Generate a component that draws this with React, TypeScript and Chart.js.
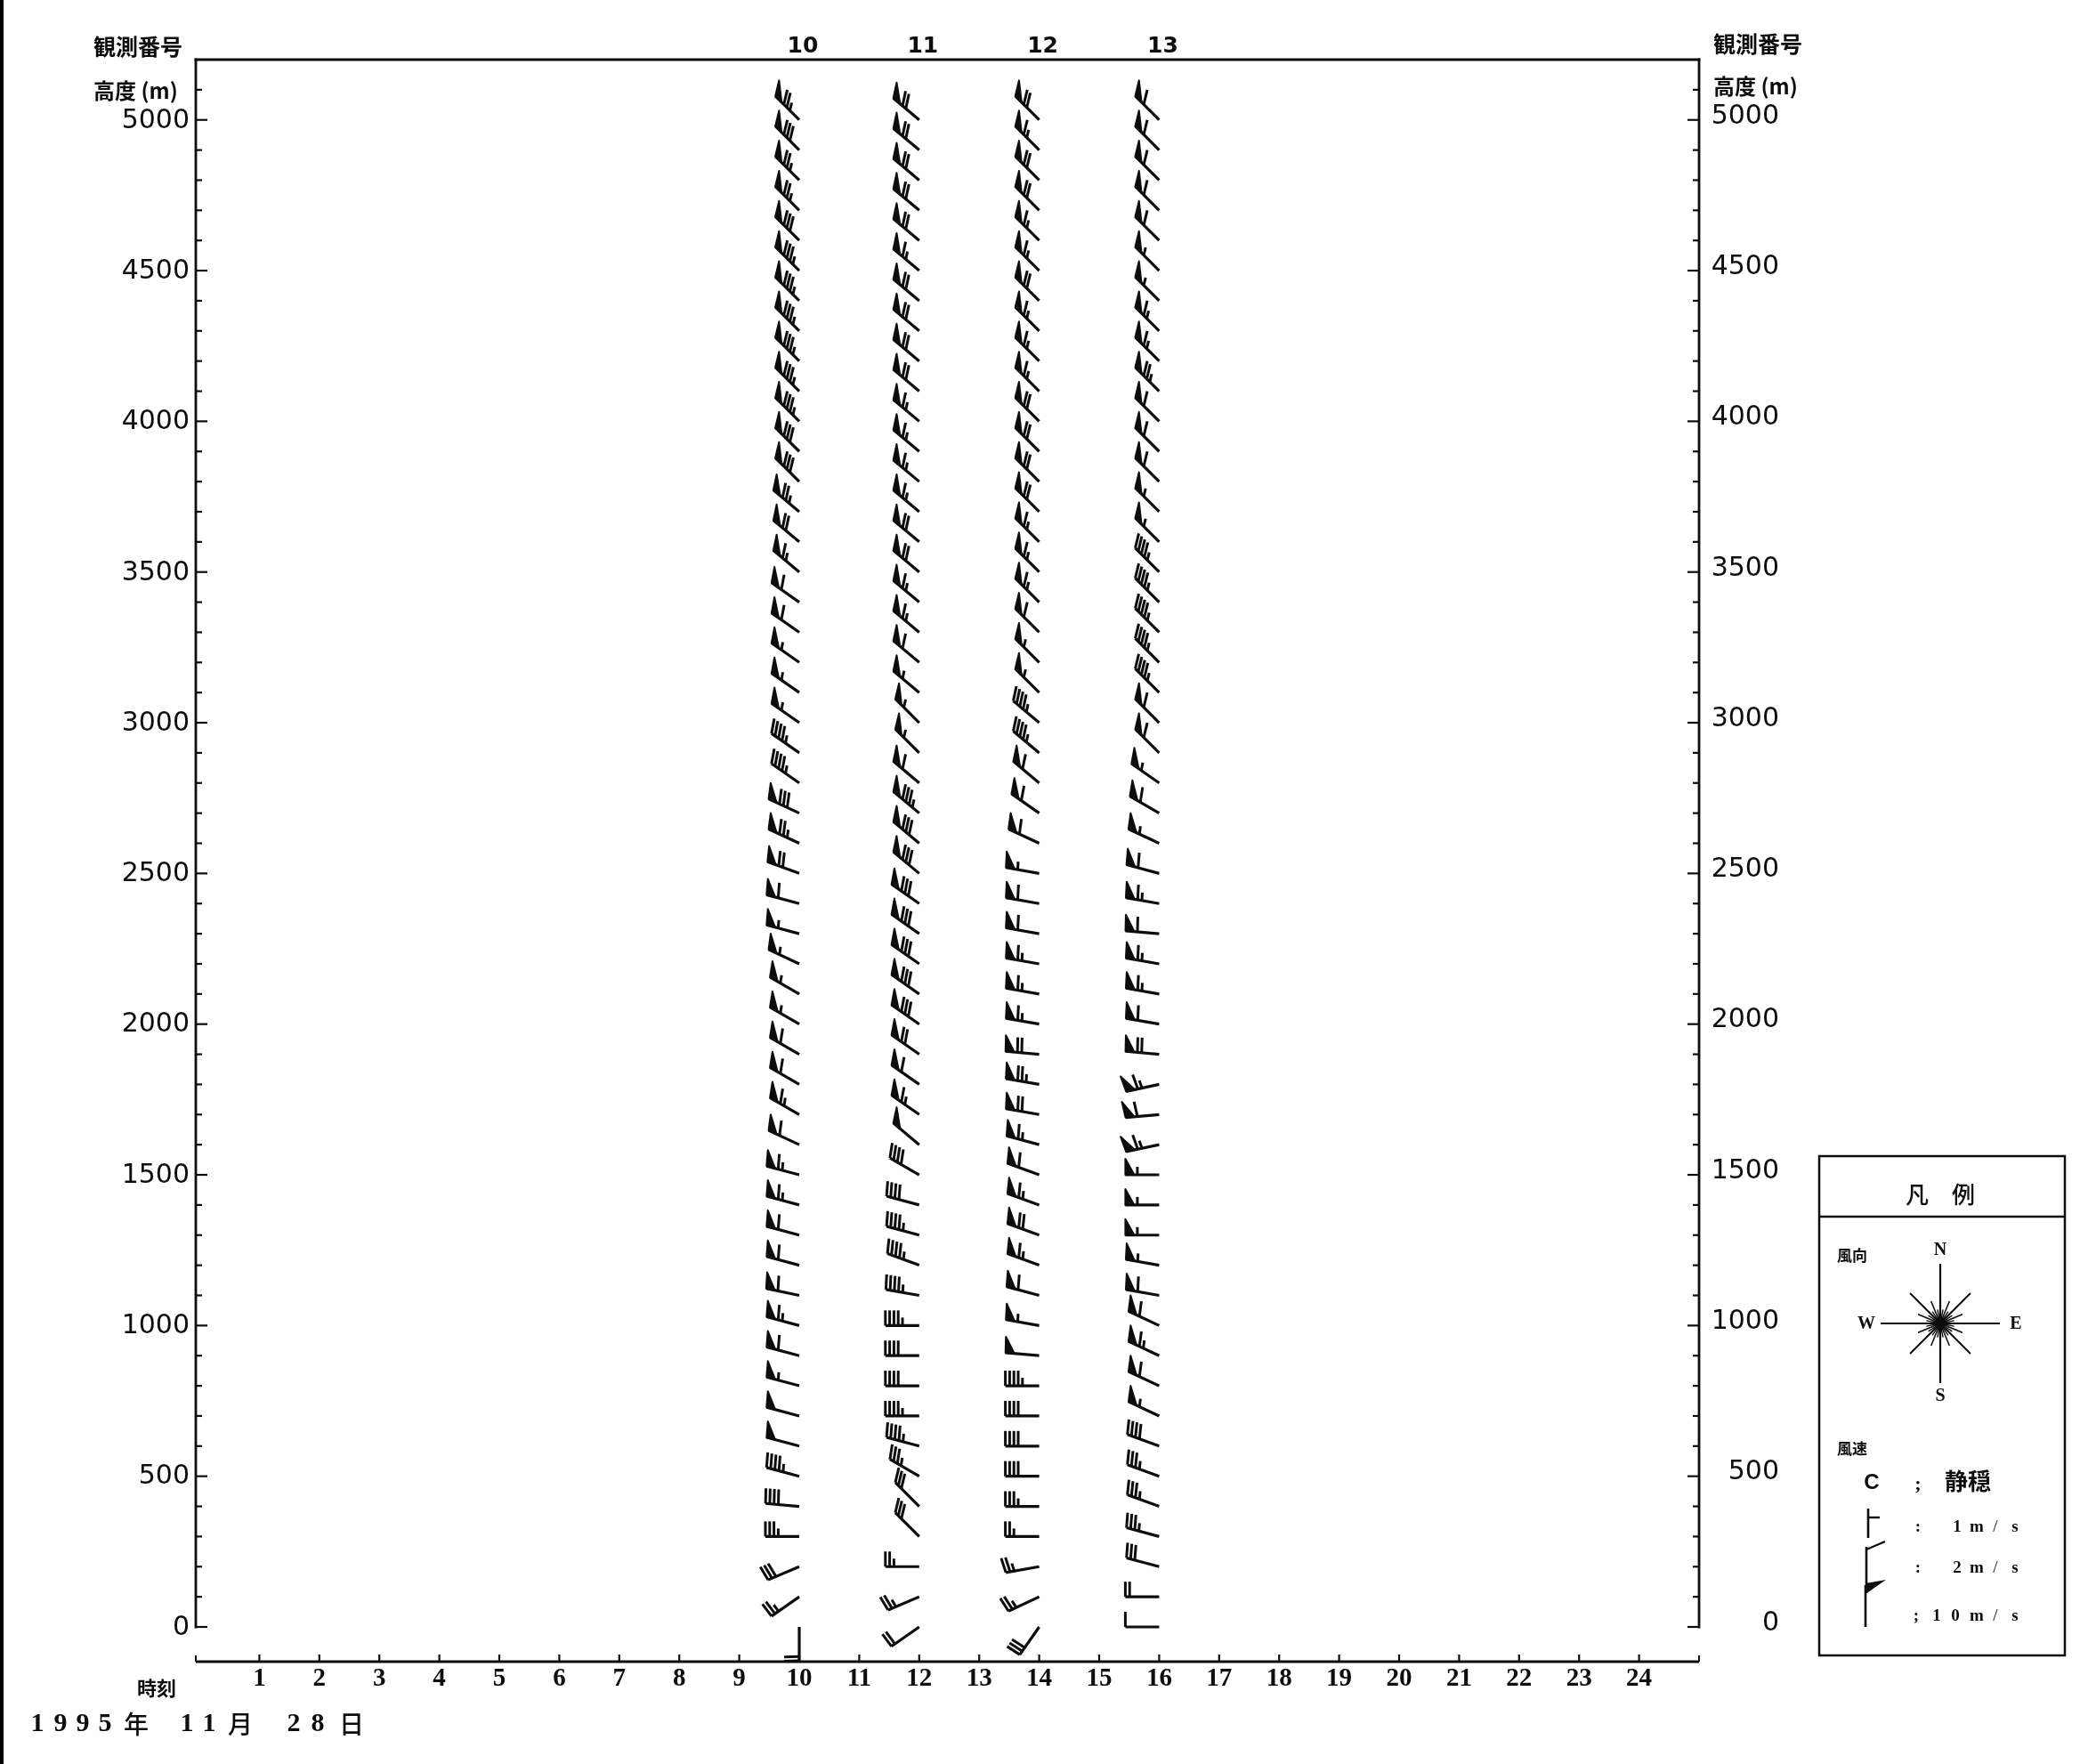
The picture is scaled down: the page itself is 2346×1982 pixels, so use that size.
import React, { useEffect, useRef } from 'react';
import { Chart, registerables } from 'chart.js';

Chart.register(...registerables);

// ---------------- DATA ----------------
const HEIGHTS = [
  0, 100, 200, 300, 400, 500, 600, 700, 800, 900,
  1000, 1100, 1200, 1300, 1400, 1500, 1600, 1700, 1800, 1900,
  2000, 2100, 2200, 2300, 2400, 2500, 2600, 2700, 2800, 2900,
  3000, 3100, 3200, 3300, 3400, 3500, 3600, 3700, 3800, 3900,
  4000, 4100, 4200, 4300, 4400, 4500, 4600, 4700, 4800, 4900,
  5000,
];
const HOURS = [10, 12, 14, 16];
const OBS_NUMBERS = ['10', '11', '12', '13'];

// wind direction (deg, from which the wind blows), bottom (0 m) to top (5000 m)
const DIR_10 = [
  180, 235, 247, 270, 275, 285, 285, 285, 285, 285,
  285, 282, 285, 285, 285, 285, 295, 300, 300, 300,
  300, 300, 295, 285, 285, 290, 295, 295, 305, 305,
  305, 305, 305, 305, 305, 310, 310, 310, 315, 315,
  315, 315, 315, 315, 315, 315, 315, 315, 315, 315,
  315,
];
const SPD_10 = [
  4, 5, 6, 7, 8, 9, 10, 10, 11, 12,
  13, 12, 12, 12, 13, 13, 12, 13, 12, 12,
  11, 11, 11, 11, 12, 14, 15, 16, 9, 9,
  11, 11, 11, 12, 12, 13, 14, 15, 16, 16,
  17, 17, 17, 17, 17, 17, 16, 15, 15, 16,
  15,
];
const DIR_12 = [
  235, 247, 270, 315, 315, 300, 285, 270, 270, 270,
  270, 280, 290, 285, 285, 300, 310, 305, 305, 305,
  305, 305, 305, 305, 305, 310, 310, 310, 310, 315,
  315, 310, 310, 310, 310, 310, 310, 310, 310, 310,
  310, 310, 310, 310, 310, 310, 310, 310, 310, 310,
  310,
];
const SPD_12 = [
  4, 5, 5, 6, 6, 7, 9, 9, 8, 8,
  9, 9, 9, 9, 8, 8, 10, 13, 12, 14,
  16, 16, 16, 16, 16, 16, 16, 17, 12, 11,
  11, 11, 12, 13, 13, 14, 14, 13, 13, 13,
  13, 14, 14, 14, 14, 13, 14, 14, 14, 14,
  14,
];
const DIR_14 = [
  215, 245, 260, 270, 270, 270, 270, 270, 270, 275,
  280, 285, 290, 290, 290, 290, 285, 280, 280, 275,
  280, 280, 280, 280, 280, 280, 295, 305, 310, 310,
  310, 315, 315, 315, 315, 315, 315, 315, 315, 315,
  315, 315, 315, 315, 315, 315, 315, 315, 315, 315,
  315,
];
const SPD_14 = [
  6, 5, 5, 5, 7, 8, 8, 8, 9, 10,
  11, 12, 13, 14, 13, 12, 13, 14, 15, 14,
  13, 13, 13, 12, 12, 11, 12, 12, 12, 9,
  9, 11, 11, 12, 13, 13, 13, 14, 14, 14,
  14, 13, 13, 13, 14, 13, 13, 14, 14, 13,
  14,
];
const DIR_16 = [
  270, 270, 285, 285, 290, 290, 290, 295, 295, 295,
  295, 280, 280, 270, 270, 270, 258, 265, 258, 275,
  280, 280, 280, 275, 280, 285, 295, 300, 305, 315,
  315, 315, 315, 315, 315, 315, 315, 315, 315, 315,
  315, 315, 315, 315, 315, 315, 315, 315, 315, 315,
  315,
];
const SPD_16 = [
  2, 4, 6, 7, 7, 7, 8, 11, 12, 13,
  12, 12, 11, 11, 11, 11, 13, 12, 13, 14,
  12, 13, 13, 12, 13, 12, 11, 12, 11, 12,
  12, 9, 9, 9, 9, 9, 11, 11, 12, 12,
  12, 15, 13, 13, 11, 11, 12, 12, 12, 12,
  12,
];
const DIRS = [DIR_10, DIR_12, DIR_14, DIR_16];
const SPEEDS = [SPD_10, SPD_12, SPD_14, SPD_16];

const Y_TICK_VALUES = [0, 500, 1000, 1500, 2000, 2500, 3000, 3500, 4000, 4500, 5000];
const Y_TICK_LABELS = ['0', '500', '1000', '1500', '2000', '2500', '3000', '3500', '4000', '4500', '5000'];
const HOUR_TICKS = [1, 2, 3, 4, 5, 6, 7, 8, 9, 10, 11, 12, 13, 14, 15, 16, 17, 18, 19, 20, 21, 22, 23, 24];
const HOUR_LABELS = ['1', '2', '3', '4', '5', '6', '7', '8', '9', '10', '11', '12', '13', '14', '15', '16', '17', '18', '19', '20', '21', '22', '23', '24'];

const DATE_CHARS = ['1', '9', '9', '5', '年', '1', '1', '月', '2', '8', '日'];
const DATE_X = [42, 68, 93, 118, 153, 210, 235, 270, 330, 357, 395];

// ---------------- DRAWING HELPERS ----------------
const INK = '#0d0d0d';
const JP = '"Noto Sans CJK JP", "Noto Sans CJK SC", sans-serif';

function featherOffset(dir: number) {
  // feathers of the plotter drawing stay close to upright for westerly winds
  if (dir >= 270 && dir <= 360) return 90 - (dir - 270) * 0.7;
  if (dir >= 240 && dir < 270) return 82;
  return 88;
}

function drawBarb(ctx: CanvasRenderingContext2D, x: number, y: number, dir: number, speed: number) {
  const L = 38;
  const spacing = 4.8;
  const longLen = 17;
  const shortLen = 9;
  const flagBase = 10;
  const r = (dir * Math.PI) / 180;
  const sx = Math.sin(r);
  const sy = -Math.cos(r);
  const fr = ((dir + featherOffset(dir)) * Math.PI) / 180;
  const fx = Math.sin(fr);
  const fy = -Math.cos(fr);
  const tx = x + sx * L;
  const ty = y + sy * L;
  ctx.save();
  ctx.strokeStyle = INK;
  ctx.fillStyle = INK;
  ctx.lineCap = 'butt';
  ctx.lineJoin = 'round';
  ctx.lineWidth = 3.2;
  ctx.beginPath();
  ctx.moveTo(x, y);
  ctx.lineTo(tx, ty);
  ctx.stroke();
  const flags = Math.floor(speed / 10);
  const rem = speed - flags * 10;
  const longs = Math.floor(rem / 2);
  const shorts = rem % 2;
  let pos = 0;
  for (let i = 0; i < flags; i++) {
    const ax = tx - sx * pos;
    const ay = ty - sy * pos;
    const bx = tx - sx * (pos + flagBase);
    const by = ty - sy * (pos + flagBase);
    ctx.beginPath();
    ctx.moveTo(ax, ay);
    ctx.lineTo(ax + fx * (longLen + 1), ay + fy * (longLen + 1));
    ctx.lineTo(bx, by);
    ctx.closePath();
    ctx.fill();
    ctx.lineWidth = 2;
    ctx.stroke();
    pos += flagBase + 3.5;
  }
  ctx.lineWidth = 3;
  for (let i = 0; i < longs; i++) {
    const px = tx - sx * pos;
    const py = ty - sy * pos;
    ctx.beginPath();
    ctx.moveTo(px, py);
    ctx.lineTo(px + fx * longLen, py + fy * longLen);
    ctx.stroke();
    pos += spacing;
  }
  for (let i = 0; i < shorts; i++) {
    if (pos === 0) pos = spacing;
    const px = tx - sx * pos;
    const py = ty - sy * pos;
    ctx.beginPath();
    ctx.moveTo(px, py);
    ctx.lineTo(px + fx * shortLen, py + fy * shortLen);
    ctx.stroke();
    pos += spacing;
  }
  ctx.restore();
}

function line(ctx: CanvasRenderingContext2D, x1: number, y1: number, x2: number, y2: number, w: number) {
  ctx.lineWidth = w;
  ctx.beginPath();
  ctx.moveTo(x1, y1);
  ctx.lineTo(x2, y2);
  ctx.stroke();
}

function text(ctx: CanvasRenderingContext2D, s: string, x: number, y: number, font: string, align: CanvasTextAlign = 'center') {
  ctx.font = font;
  ctx.textAlign = align;
  ctx.textBaseline = 'middle';
  ctx.fillText(s, x, y);
}

const decorPlugin = {
  id: 'windDecor',
  beforeDraw(chart: any) {
    const ctx = chart.ctx as CanvasRenderingContext2D;
    ctx.save();
    ctx.fillStyle = '#fff';
    ctx.fillRect(0, 0, chart.width, chart.height);
    ctx.fillStyle = '#000';
    ctx.fillRect(0, 0, 4, chart.height);
    ctx.restore();
  },
  afterDatasetsDraw(chart: any) {
    const ctx = chart.ctx as CanvasRenderingContext2D;
    chart.data.datasets.forEach((ds: any, di: number) => {
      const meta = chart.getDatasetMeta(di);
      meta.data.forEach((el: any, i: number) => {
        drawBarb(ctx, el.x, el.y, ds.windDir[i], ds.windSpeed[i]);
      });
    });
  },
  afterDraw(chart: any) {
    const ctx = chart.ctx as CanvasRenderingContext2D;
    const xs = chart.scales.x;
    const ys = chart.scales.y;
    const leftX = xs.getPixelForValue(0) - 4;
    const rightX = xs.getPixelForValue(25);
    const topY = ys.getPixelForValue(5200);
    const zeroY = ys.getPixelForValue(0);
    const timeY = 1867;
    ctx.save();
    ctx.strokeStyle = INK;
    ctx.fillStyle = INK;
    // frame (left, top, right)
    ctx.lineCap = 'square';
    line(ctx, leftX, zeroY, leftX, topY, 2.8);
    line(ctx, leftX, topY, rightX, topY, 2.8);
    line(ctx, rightX, topY, rightX, zeroY, 2.8);
    ctx.lineCap = 'butt';
    // height ticks every 100 m, inward
    for (let v = 0; v <= 5100; v += 100) {
      const py = ys.getPixelForValue(v);
      const len = v % 500 === 0 ? 13 : 7;
      line(ctx, leftX, py, leftX + len, py, 2.2);
      line(ctx, rightX, py, rightX - len, py, 2.2);
    }
    // height labels
    Y_TICK_VALUES.forEach((v, i) => {
      const py = ys.getPixelForValue(v);
      text(ctx, Y_TICK_LABELS[i], 213, py + 1, '30px "DejaVu Sans"', 'right');
      text(ctx, Y_TICK_LABELS[i], 1999, py - 4, '30px "DejaVu Sans"', 'right');
    });
    // axis titles
    text(ctx, '観測番号', 105, 52, `700 25px ${JP}`, 'left');
    text(ctx, '高度 (m)', 105, 102, `700 24px ${JP}`, 'left');
    text(ctx, '観測番号', 1925, 49, `700 25px ${JP}`, 'left');
    text(ctx, '高度 (m)', 1925, 97, `700 24px ${JP}`, 'left');
    // observation numbers
    HOURS.forEach((h, i) => {
      text(ctx, OBS_NUMBERS[i], xs.getPixelForValue(h) + 4, 52, '700 25px "DejaVu Sans"');
    });
    // time axis
    line(ctx, leftX, timeY, rightX, timeY, 2.8);
    line(ctx, leftX, timeY, leftX, timeY - 7, 2);
    line(ctx, rightX, timeY, rightX, timeY - 7, 2);
    HOUR_TICKS.forEach((h, i) => {
      const px = xs.getPixelForValue(h);
      line(ctx, px, timeY, px, timeY - 8, 2.2);
      text(ctx, HOUR_LABELS[i], px, 1887, '700 29px "Liberation Serif"');
    });
    text(ctx, '時刻', 176, 1897, `700 22px ${JP}`);
    DATE_CHARS.forEach((c, i) => {
      const isDigit = /[0-9]/.test(c);
      text(ctx, c, DATE_X[i], 1937, isDigit ? '700 30px "Liberation Serif"' : `500 28px ${JP}`);
    });

    // ---------- legend box ----------
    ctx.lineWidth = 2.5;
    ctx.strokeRect(2044, 1299, 276, 561);
    line(ctx, 2044, 1367, 2320, 1367, 2.5);
    text(ctx, '凡　例', 2180, 1342, `500 26px ${JP}`);
    text(ctx, '風向', 2064, 1411, `700 17px ${JP}`, 'left');
    // compass
    const cx = 2180;
    const cy = 1487;
    for (let k = 0; k < 32; k++) {
      const a = (k * 11.25 * Math.PI) / 180;
      let len = 16;
      let w = 1.4;
      if (k % 8 === 0) { len = 67; w = 2.2; }
      else if (k % 4 === 0) { len = 48; w = 2; }
      else if (k % 2 === 0) { len = 27; w = 1.6; }
      line(ctx, cx, cy, cx + Math.sin(a) * len, cy - Math.cos(a) * len, w);
    }
    ctx.beginPath();
    ctx.arc(cx, cy, 6, 0, Math.PI * 2);
    ctx.fill();
    text(ctx, 'N', 2180, 1405, '700 20px "Liberation Serif"');
    text(ctx, 'S', 2180, 1569, '700 20px "Liberation Serif"');
    text(ctx, 'W', 2097, 1488, '700 20px "Liberation Serif"');
    text(ctx, 'E', 2265, 1488, '700 20px "Liberation Serif"');
    text(ctx, '風速', 2064, 1628, `700 17px ${JP}`, 'left');
    text(ctx, 'C', 2103, 1666, '700 24px "Liberation Sans"');
    text(ctx, ';', 2155, 1668, '700 22px "Liberation Serif"');
    text(ctx, '静穏', 2211, 1664, `700 26px ${JP}`);
    // 1 m/s
    line(ctx, 2099, 1728, 2099, 1695, 2.6);
    line(ctx, 2099, 1705, 2112, 1705, 2.4);
    // 2 m/s
    line(ctx, 2097, 1790, 2097, 1738, 2.6);
    line(ctx, 2097, 1741, 2118, 1732, 2.4);
    // 10 m/s
    line(ctx, 2096, 1828, 2096, 1781, 2.6);
    ctx.beginPath();
    ctx.moveTo(2096, 1779);
    ctx.lineTo(2119, 1775);
    ctx.lineTo(2096, 1791);
    ctx.closePath();
    ctx.fill();
    const sm = '700 19px "Liberation Serif"';
    const unit = (y: number, num: string, numX: number) => {
      text(ctx, num, numX, y, sm);
      text(ctx, 'm', 2221, y, sm);
      text(ctx, '/', 2242, y, '19px "Liberation Serif"');
      text(ctx, 's', 2264, y, sm);
    };
    text(ctx, ':', 2155, 1716, sm);
    unit(1716, '1', 2199);
    text(ctx, ':', 2155, 1762, sm);
    unit(1762, '2', 2199);
    text(ctx, ';', 2153, 1816, sm);
    text(ctx, '1', 2176, 1816, sm);
    unit(1816, '0', 2197);
    ctx.restore();
  },
};

export default function App() {
  const ref = useRef<HTMLCanvasElement>(null);
  useEffect(() => {
    if (!ref.current) return;
    const datasets = HOURS.map((h, i) => ({
      label: OBS_NUMBERS[i],
      data: HEIGHTS.map((z) => ({ x: h, y: z })),
      windDir: DIRS[i],
      windSpeed: SPEEDS[i],
      pointRadius: 0,
      pointHoverRadius: 0,
      showLine: false,
    }));
    const chart = new Chart(ref.current, {
      type: 'scatter',
      data: { datasets: datasets as any },
      options: {
        responsive: false,
        animation: false,
        devicePixelRatio: 1,
        layout: { padding: { left: 224, right: 437, top: 67, bottom: 154 } },
        scales: {
          x: { type: 'linear', min: 0, max: 25, display: false },
          y: { type: 'linear', min: 0, max: 5200, display: false },
        },
        plugins: { legend: { display: false }, tooltip: { enabled: false } },
        events: [],
      },
      plugins: [decorPlugin as any],
    });
    return () => chart.destroy();
  }, []);
  return (
    <div style={{ position: 'absolute', left: 0, top: 0, width: 2346, height: 1982, background: '#fff' }}>
      <canvas ref={ref} width={2346} height={1982} style={{ display: 'block' }} />
    </div>
  );
}
